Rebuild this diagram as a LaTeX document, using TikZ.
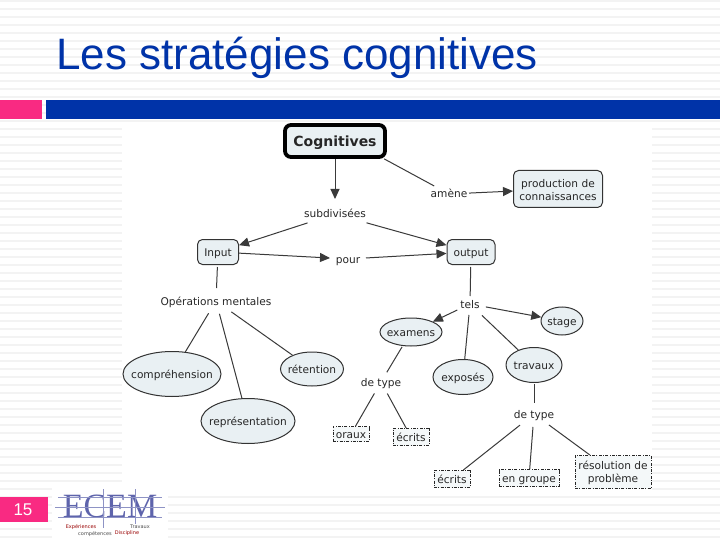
\documentclass[tikz,border=0pt]{standalone}
\usepackage{fontspec}
\setmainfont{DejaVu Sans}
\newfontfamily\ttl{Liberation Sans}
\newfontfamily\lgf{Liberation Serif}
\usetikzlibrary{arrows.meta,shapes.geometric}
\definecolor{navy}{HTML}{0033A8}
\definecolor{pinkb}{HTML}{F92A82}
\definecolor{stripe}{HTML}{F3F3F3}
\definecolor{fillb}{HTML}{E9F0F3}
\definecolor{lk}{HTML}{3A3A3A}
\definecolor{logob}{HTML}{5E64AC}
\newcommand{\ec}[1]{\makebox[0pt]{#1}}
\newcommand{\lowr}{\rule{0pt}{10.5pt}}
\tikzset{
  x=1pt,y=-1pt,
  lab/.style={font=\fontsize{10.6}{12}\selectfont,text=black!85,inner sep=0pt,outer sep=0pt,minimum width=#1,minimum height=16,text height=8pt,text depth=0pt},
  lab/.default=10,
  boxn/.style={draw=black!80,fill=fillb,rounded corners=5,line width=1pt,align=center,font=\fontsize{10.6}{13}\selectfont,text=black!85,inner sep=0pt},
  sgl/.style={text height=8pt,text depth=0pt},
  elln/.style={draw=black!80,fill=fillb,ellipse,line width=1pt,font=\fontsize{10.6}{12}\selectfont,text=black!85,inner sep=0pt,text height=8pt,text depth=0pt},
  dashn/.style={draw=black!85,dash pattern=on 3pt off 1.3pt on 1pt off 1.3pt,fill=fillb!50,line width=1pt,align=center,font=\fontsize{10.6}{13}\selectfont,text=black!85,inner sep=0pt},
  lnk/.style={draw=lk,line width=1pt},
  arr/.style={lnk,-{Triangle[length=10pt,width=9pt]}},
  logosm/.style={font=\fontsize{5}{5}\selectfont,inner sep=0pt},
}
\begin{document}
\begin{tikzpicture}
\useasboundingbox (0,0) rectangle (720,540);
\fill[white] (0,0) rectangle (720,540);
\foreach \yy in {0,8,...,536} {\fill[stripe] (0,\yy) rectangle (720,\yy+2);}
\fill[white] (122,122) rectangle (652,490);
\fill[white] (52,488) rectangle (168,540);
% bars
\fill[pinkb] (0,100) rectangle (42,119);
\fill[navy] (46,100) rectangle (720,119);
\fill[pinkb] (0,497) rectangle (48,522);
\node[font=\fontsize{17}{20}\selectfont\ttl,text=white,inner sep=0pt] (num) at (23,510) {15};
\node[font=\fontsize{44}{50}\selectfont\ttl,text=navy,anchor=base west,inner sep=0pt] (title) at (56,70) {Les stratégies cognitives};
% logo
\node[font=\fontsize{34}{34}\selectfont\lgf,text=logob,inner sep=0pt,anchor=base,text depth=0pt,text height=22pt] (logo) at (110,517) {ECEM};
\draw[logob!70,line width=0.4pt] (58,497)--(162,497) (55,507)--(165,507) (58,517)--(162,517) (103,489)--(103,528) (135,489)--(135,524);
\node[logosm,text=red!60!black] (l1) at (81,527) {Expériences};
\node[logosm,text=black!70] (l2) at (95,534) {compétences};
\node[logosm,text=black!70] (l3) at (140,527) {Travaux};
\node[logosm,text=red!60!black] (l4) at (127,533.5) {Discipline};
% concept map
\node[boxn,draw=black,line width=3.8pt,rounded corners=6,minimum width=100,minimum height=32,font=\fontsize{14}{16}\selectfont\bfseries,sgl,text height=11pt] (cog) at (335,141) {Cognitives};
\node[boxn,minimum width=89,minimum height=37] (prod) at (558,189) {\lowr production de\\connaissances};
\node[lab=40] (amene) at (449,194) {amène};
\node[lab=64] (sub) at (335,214) {subdivisées};
\node[boxn,sgl,minimum width=41,minimum height=25] (input) at (218,252) {Input};
\node[boxn,sgl,minimum width=48,minimum height=25] (output) at (471,252) {output};
\node[lab=36] (pour) at (348,259) {pour};
\node[lab=112] (ops) at (216,301) {Opérations mentales};
\node[lab=20] (tels) at (470,304) {tels};
\node[elln,minimum width=62,minimum height=28] (exa) at (411,332) {\ec{examens}};
\node[elln,minimum width=42,minimum height=28] (stage) at (562,321) {\ec{stage}};
\node[elln,minimum width=98,minimum height=45] (comp) at (172,374) {\ec{compréhension}};
\node[elln,minimum width=63,minimum height=34] (ret) at (312,369) {\ec{rétention}};
\node[elln,minimum width=94,minimum height=45] (rep) at (248,421) {\ec{représentation}};
\node[elln,minimum width=60,minimum height=35] (exp) at (463,377) {\ec{exposés}};
\node[elln,minimum width=56,minimum height=35] (trav) at (534,365) {\ec{travaux}};
\node[lab=42] (dt1) at (381,382) {de type};
\node[lab=42] (dt2) at (534,414) {de type};
\node[dashn,sgl,minimum width=36,minimum height=15] (ora) at (351,434) {oraux};
\node[dashn,sgl,minimum width=36,minimum height=17] (ec1) at (411,437) {écrits};
\node[dashn,sgl,minimum width=36,minimum height=17] (ec2) at (452,479) {écrits};
\node[dashn,sgl,minimum width=60,minimum height=17] (grp) at (529,478) {en groupe};
\node[dashn,minimum width=76,minimum height=33] (res) at (613,472) {\lowr résolution de\\problème};
% links
\draw[arr,shorten >=7pt] (cog) -- (sub);
\draw[lnk] (cog.-20) -- (amene);
\draw[arr] (amene) -- (prod);
\draw[arr,shorten <=3pt] (sub) -- (input);
\draw[arr,shorten <=3pt] (sub) -- (output);
\draw[arr] (input) -- (pour);
\draw[arr] (pour) -- (output);
\draw[lnk,shorten <=2pt,shorten >=5pt] (input) -- (ops);
\draw[lnk,shorten <=5pt] (ops) -- (comp);
\draw[lnk,shorten <=5pt] (ops) -- (rep);
\draw[lnk,shorten <=5pt] (ops) -- (ret);
\draw[lnk,shorten <=2pt] (output) -- (tels);
\draw[arr,shorten <=3pt] (tels) -- (exa);
\draw[arr,shorten <=6pt] (tels) -- (stage);
\draw[lnk,shorten <=3pt] (tels) -- (exp);
\draw[lnk,shorten <=5pt] (tels) -- (trav);
\draw[lnk,shorten <=1pt,shorten >=2pt] (exa) -- (dt1);
\draw[lnk,shorten <=4pt] (dt1) -- (ora);
\draw[lnk,shorten <=4pt] (dt1) -- (ec1);
\draw[lnk,shorten <=1pt,shorten >=3pt] (trav) -- (dt2);
\draw[lnk,shorten <=5pt] (dt2) -- (ec2);
\draw[lnk,shorten <=5pt] (dt2) -- (grp);
\draw[lnk,shorten <=5pt] (dt2) -- (res);
\end{tikzpicture}
\end{document}
